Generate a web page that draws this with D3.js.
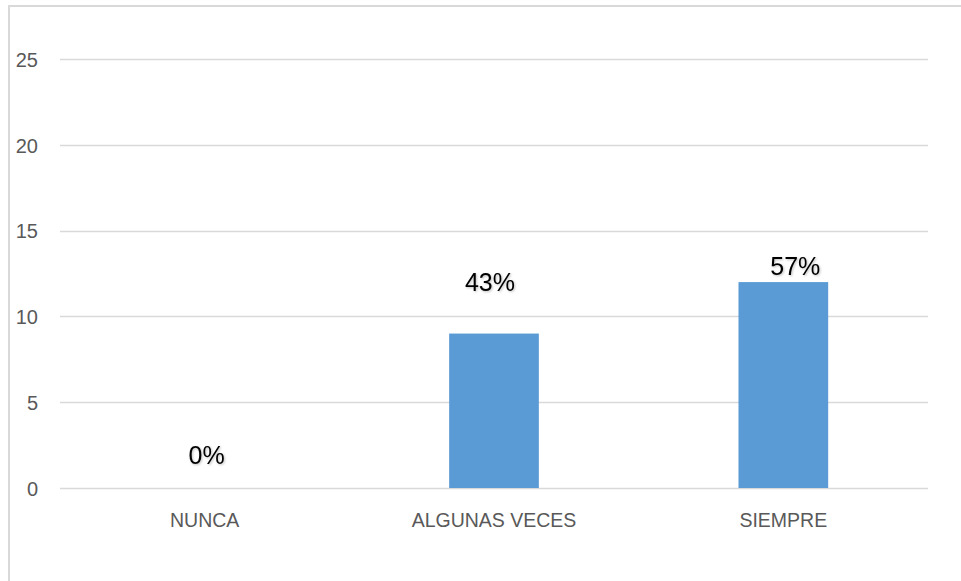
<!DOCTYPE html>
<html><head><meta charset="utf-8">
<script src="https://cdn.jsdelivr.net/npm/d3@7"></script>
<style>html,body{margin:0;padding:0;background:#fff;overflow:hidden}</style>
</head><body>
<svg id="c" width="961" height="581"></svg>
<script>
const categories = ["NUNCA", "ALGUNAS VECES", "SIEMPRE"];
const values = [0, 9, 12];
const percentLabels = ["0%", "43%", "57%"];
const yTicks = [0, 5, 10, 15, 20, 25];

const svg = d3.select("#c");
const W = 961, H = 581;
const plot = {left: 60, right: 928, top: 59, bottom: 488};

// outer chart border (cropped at right/bottom)
svg.append("rect").attr("x", 9).attr("y", 6).attr("width", 1000).attr("height", 1000)
  .attr("fill", "none").attr("stroke", "#d9d9d9").attr("stroke-width", 2);

const x = d3.scaleBand().domain(categories).range([plot.left, plot.right]);
const y = d3.scaleLinear().domain([0, 25]).range([plot.bottom, plot.top]);

// gridlines
svg.append("g").selectAll("line").data(yTicks).join("line")
  .attr("x1", plot.left).attr("x2", plot.right)
  .attr("y1", d => Math.round(y(d)) + 0.5).attr("y2", d => Math.round(y(d)) + 0.5)
  .attr("stroke", "#d9d9d9").attr("stroke-width", 1.3);

// y axis labels
const yAxis = d3.axisLeft(y).tickValues(yTicks).tickSize(0).tickPadding(0);
const gy = svg.append("g").attr("transform", "translate(38,0)").call(yAxis);
gy.select(".domain").remove();
gy.selectAll("text").attr("font-family", "Liberation Sans, Arial, sans-serif")
  .attr("font-size", 20).attr("fill", "#595959").attr("dy", "0.36em");

// x axis labels
const xAxis = d3.axisBottom(x).tickSize(0).tickPadding(0);
const gx = svg.append("g").attr("transform", "translate(0,512)").call(xAxis);
gx.select(".domain").remove();
gx.selectAll("text").attr("font-family", "Liberation Sans, Arial, sans-serif")
  .attr("font-size", 19.5).attr("fill", "#595959").attr("dy", "0.78em");

// bars
const barW = x.step() * 0.31;
svg.append("g").selectAll("rect").data(values).join("rect")
  .attr("x", (d, i) => x(categories[i]) + x.bandwidth() / 2 - barW / 2)
  .attr("width", barW)
  .attr("y", d => y(d))
  .attr("height", d => y(0) - y(d))
  .attr("fill", "#5b9bd5");

// data labels (manually placed in original)
const labelDx = [2, -4, 12];
const labelDy = [-24, -43, -7];
const defs = svg.append("defs");
const f = defs.append("filter").attr("id", "sh").attr("x", "-20%").attr("y", "-20%").attr("width", "140%").attr("height", "140%");
f.append("feDropShadow").attr("dx", 1).attr("dy", 1).attr("stdDeviation", 1).attr("flood-color", "#000").attr("flood-opacity", 0.25);
svg.append("g").selectAll("text").data(values).join("text")
  .attr("x", (d, i) => x(categories[i]) + x.bandwidth() / 2 + labelDx[i])
  .attr("y", (d, i) => y(d) + labelDy[i])
  .attr("text-anchor", "middle")
  .attr("font-family", "Liberation Sans, Arial, sans-serif")
  .attr("font-size", 25).attr("fill", "#000")
  .attr("filter", "url(#sh)")
  .text((d, i) => percentLabels[i]);
</script>
</body></html>
